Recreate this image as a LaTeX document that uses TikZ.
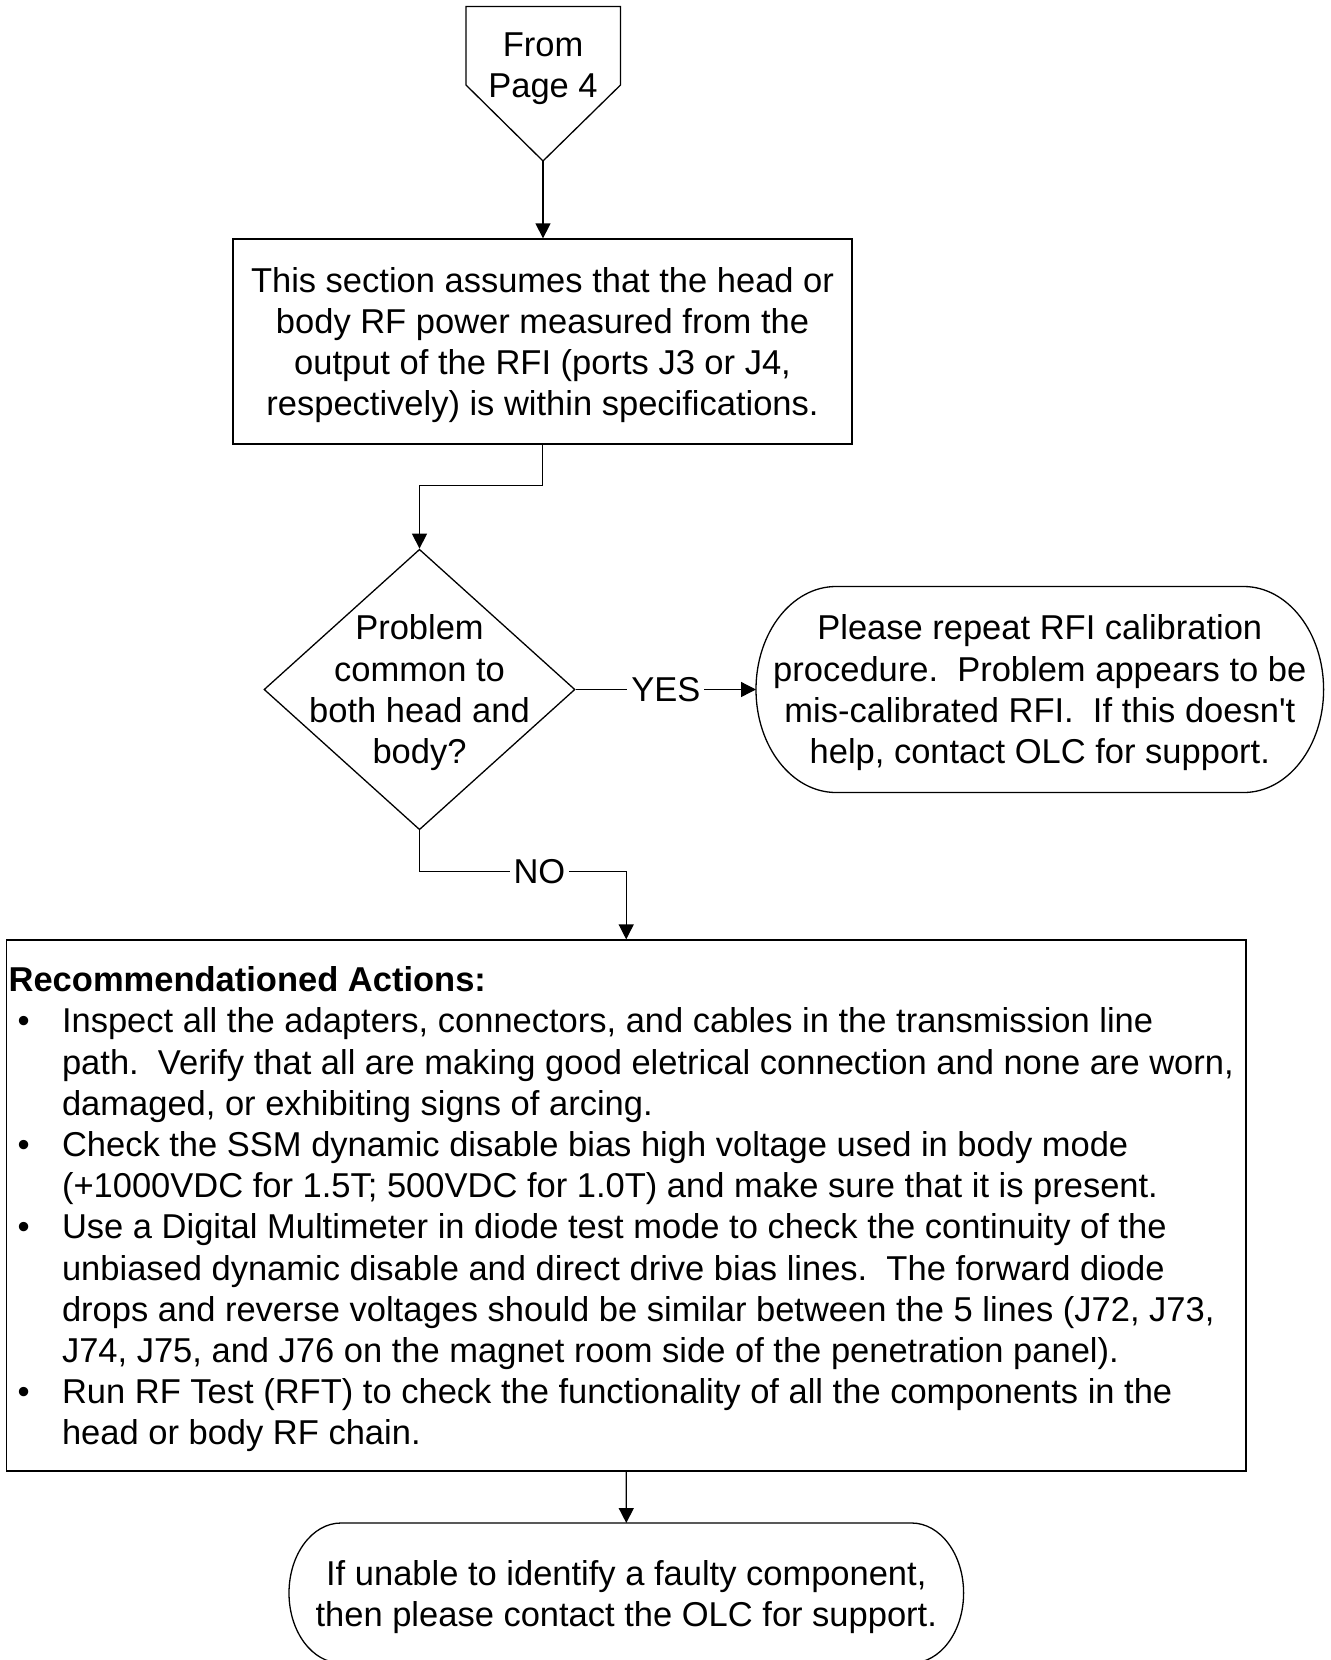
\documentclass[tikz,border=0pt]{standalone}
\usepackage{fontspec}
\setmainfont{Liberation Sans}
\usetikzlibrary{arrows.meta,shapes.geometric}
\frenchspacing
% bullet and hanging indent for the action list
\newcommand\itembul{\hspace*{4.5pt}\makebox[22.2pt][l]{•}}
\newcommand\itemind{\hspace*{26.7pt}}
\begin{document}
\begin{tikzpicture}[x=0.5pt,y=-0.5pt,
  line width=0.65pt,
  every node/.style={font=\fontsize{17.25}{20.6}\selectfont},
  flow/.style={draw,-{Triangle[length=7.5pt,width=7.5pt]}},
  procbox/.style={draw,rectangle,inner sep=0pt},
  term/.style={rectangle,inner sep=0pt,outer sep=0pt},
  txt/.style={align=center,inner sep=0pt},
  lbl/.style={fill=white,inner xsep=2pt,inner ysep=1pt}]
\useasboundingbox (0,0) rectangle (1330,1660);

% off-page connector
\draw (466,6.5) -- (620.5,6.5) -- (620.5,85) -- (543,161) coordinate (fromtip)
  -- (466,85) -- cycle;
\node[txt] (fromtext) at (543,68.5) {From\\Page 4};

% assumption box
\node[procbox,minimum width=309.5pt,minimum height=102.5pt] (box1) at (542.5,341.5) {};
\node[txt] (box1text) at ([yshift=-1.75pt]box1.center)
  {This section assumes that the head or\\
   body RF power measured from the\\
   output of the RFI (ports J3 or J4,\\
   respectively) is within specifications.};

% decision
\node[draw,diamond,minimum width=155.5pt,minimum height=140.25pt,inner sep=0pt] (dec)
  at (419.5,689.5) {};
\node[txt] (dectext) at ([yshift=-1.6pt]dec.center)
  {Problem\\common to\\both head and\\body?};

% terminator: recalibrate
\node[term,minimum width=283.8pt,minimum height=103pt] (please) at (1039.8,689.5) {};
\draw ([xshift=40pt]please.north west) -- ([xshift=-40pt]please.north east)
  arc[start angle=90,end angle=-90,x radius=40pt,y radius=51.5pt]
  -- ([xshift=40pt]please.south west)
  arc[start angle=270,end angle=90,x radius=40pt,y radius=51.5pt] -- cycle;
\node[txt] (pleasetext) at ([yshift=-1.6pt]please.center)
  {Please repeat RFI calibration\\
   procedure.~ Problem appears to be\\
   mis-calibrated RFI.~ If this doesn\textquotesingle t\\
   help, contact OLC for support.};

% recommended actions
\node[procbox,minimum width=619.8pt,minimum height=265.5pt] (actions)
  at (626.2,1205.5) {};
\node[anchor=north west,inner sep=0pt,align=left] (actiontext) at (8,966) {%
\textbf{Recommendationed Actions:}\\
\itembul Inspect all the adapters, connectors, and cables in the transmission line\\
\itemind path.~ Verify that all are making good eletrical connection and none are worn,\\
\itemind damaged, or exhibiting signs of arcing.\\
\itembul Check the SSM dynamic disable bias high voltage used in body mode\\
\itemind (+1000VDC for 1.5T; 500VDC for 1.0T) and make sure that it is present.\\
\itembul Use a Digital Multimeter in diode test mode to check the continuity of the\\
\itemind unbiased dynamic disable and direct drive bias lines.~ The forward diode\\
\itemind drops and reverse voltages should be similar between the 5 lines (J72, J73,\\
\itemind J74, J75, and J76 on the magnet room side of the penetration panel).\\
\itembul Run RF Test (RFT) to check the functionality of all the components in the\\
\itemind head or body RF chain.};

% terminator: contact support
\node[term,minimum width=337.3pt,minimum height=70pt] (support) at (626.3,1593) {};
\draw ([xshift=26pt]support.north west) -- ([xshift=-26pt]support.north east)
  arc[start angle=90,end angle=-90,x radius=26pt,y radius=35pt]
  -- ([xshift=26pt]support.south west)
  arc[start angle=270,end angle=90,x radius=26pt,y radius=35pt] -- cycle;
\node[txt] (supporttext) at ([yshift=-1.85pt]support.center)
  {If unable to identify a faulty component,\\
   then please contact the OLC for support.};

% connectors
\draw[flow] (fromtip) -- (fromtip |- box1.north);
\draw[flow] (box1.south) -- ++(0,41) -| (dec.north);
\draw[flow] (dec.east) -- node[lbl] (yes) {YES} (please.west);
\draw[flow] (dec.south) -- ++(0,41) -| node[lbl,pos=0.29] (no) {NO} (actions.north);
\draw[flow] (actions.south) -- (support.north);
\end{tikzpicture}
\end{document}
